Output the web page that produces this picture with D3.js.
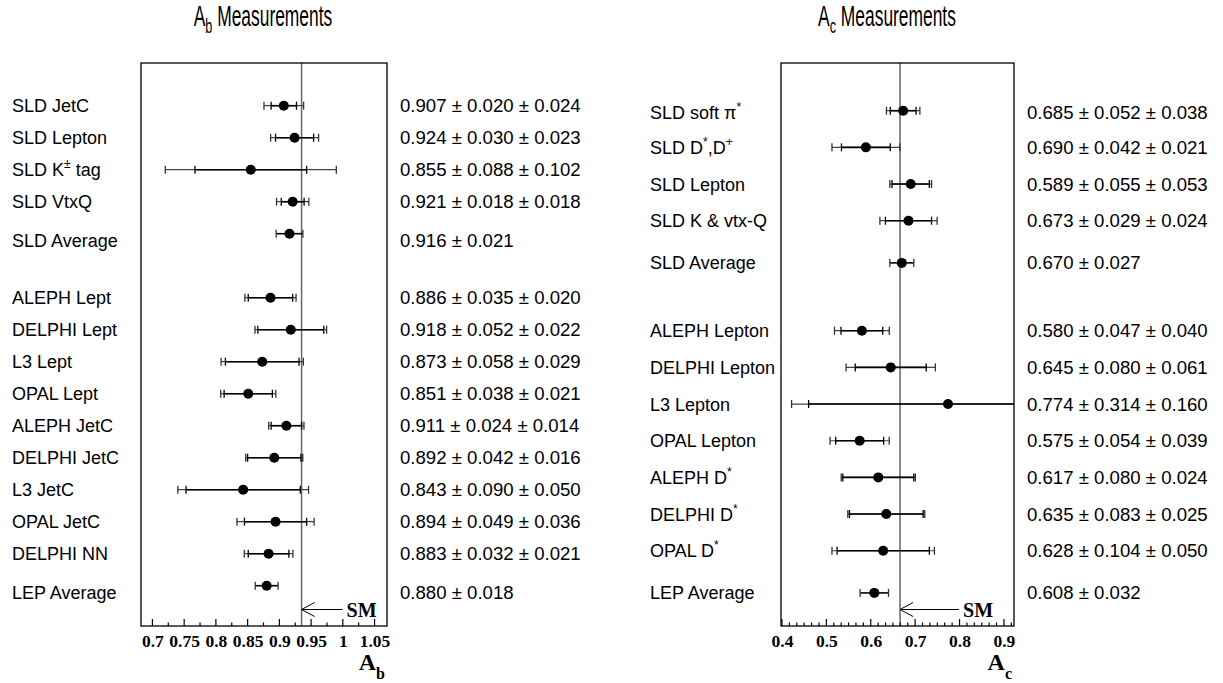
<!DOCTYPE html>
<html>
<head>
<meta charset="utf-8">
<script src="https://cdn.jsdelivr.net/npm/d3@7"></script>
<style>
  html, body { margin: 0; padding: 0; background: #fff; }
  svg { display: block; }
</style>
</head>
<body>
<svg id="chart" width="1223" height="683"></svg>
<script>
// ---------------- Data: A_b panel ----------------
const abLabels = ["SLD JetC", "SLD Lepton", "SLD K^{±} tag", "SLD VtxQ", "SLD Average",
  "ALEPH Lept", "DELPHI Lept", "L3 Lept", "OPAL Lept", "ALEPH JetC", "DELPHI JetC",
  "L3 JetC", "OPAL JetC", "DELPHI NN", "LEP Average"];
const abValue = [0.907, 0.924, 0.855, 0.921, 0.916, 0.886, 0.918, 0.873, 0.851, 0.911, 0.892, 0.843, 0.894, 0.883, 0.880];
const abStat  = [0.020, 0.030, 0.088, 0.018, 0.021, 0.035, 0.052, 0.058, 0.038, 0.024, 0.042, 0.090, 0.049, 0.032, 0.018];
const abSyst  = [0.024, 0.023, 0.102, 0.018, null, 0.020, 0.022, 0.029, 0.021, 0.014, 0.016, 0.050, 0.036, 0.021, null];
const abPointSlot = [0, 1, 2, 3, 4, 6, 7, 8, 9, 10, 11, 12, 13, 14, 15];
const abLabelSlot = [0, 1, 2, 3, 4.2, 6, 7, 8, 9, 10, 11, 12, 13, 14, 15.2];
const abText = ["0.907 ± 0.020 ± 0.024", "0.924 ± 0.030 ± 0.023", "0.855 ± 0.088 ± 0.102",
  "0.921 ± 0.018 ± 0.018", "0.916 ± 0.021", "0.886 ± 0.035 ± 0.020", "0.918 ± 0.052 ± 0.022",
  "0.873 ± 0.058 ± 0.029", "0.851 ± 0.038 ± 0.021", "0.911 ± 0.024 ± 0.014", "0.892 ± 0.042 ± 0.016",
  "0.843 ± 0.090 ± 0.050", "0.894 ± 0.049 ± 0.036", "0.883 ± 0.032 ± 0.021", "0.880 ± 0.018"];
const abTickLabels = ["0.7", "0.75", "0.8", "0.85", "0.9", "0.95", "1", "1.05"];
const abSM = 0.935;

// ---------------- Data: A_c panel ----------------
const acLabels = ["SLD soft π^{*}", "SLD D^{*},D^{+}", "SLD Lepton", "SLD K & vtx-Q", "SLD Average",
  "ALEPH Lepton", "DELPHI Lepton", "L3 Lepton", "OPAL Lepton", "ALEPH D^{*}", "DELPHI D^{*}",
  "OPAL D^{*}", "LEP Average"];
const acValue = [0.673, 0.589, 0.690, 0.685, 0.670, 0.580, 0.645, 0.774, 0.575, 0.617, 0.635, 0.628, 0.608];
const acStat  = [0.029, 0.055, 0.042, 0.052, 0.027, 0.047, 0.080, 0.314, 0.054, 0.080, 0.083, 0.104, 0.032];
const acSyst  = [0.024, 0.053, 0.021, 0.038, null, 0.040, 0.061, 0.160, 0.039, 0.024, 0.025, 0.050, null];
const acPointSlot = [0, 1, 2, 3, 4.15, 6, 7, 8, 9, 10, 11, 12, 13.15];
const acLabelSlot = [0.05, 1, 2, 3, 4.15, 6, 7, 8, 9, 10, 11, 12, 13.15];
const acText = ["0.685 ± 0.052 ± 0.038", "0.690 ± 0.042 ± 0.021", "0.589 ± 0.055 ± 0.053",
  "0.673 ± 0.029 ± 0.024", "0.670 ± 0.027", "0.580 ± 0.047 ± 0.040", "0.645 ± 0.080 ± 0.061",
  "0.774 ± 0.314 ± 0.160", "0.575 ± 0.054 ± 0.039", "0.617 ± 0.080 ± 0.024", "0.635 ± 0.083 ± 0.025",
  "0.628 ± 0.104 ± 0.050", "0.608 ± 0.032"];
const acTickLabels = ["0.4", "0.5", "0.6", "0.7", "0.8", "0.9"];
const acSM = 0.666;

// ---------------- Drawing ----------------
const svg = d3.select("#chart");
const SANS = "'Liberation Sans', Arial, Helvetica, sans-serif";
const SERIF = "'Liberation Serif', 'Times New Roman', Times, serif";

function richText(sel, str, supSize) {
  const parts = str.split(/(\^\{[^}]*\})/).filter(p => p.length);
  let lastSup = false;
  parts.forEach(p => {
    if (p.startsWith("^{")) {
      sel.append("tspan").attr("font-size", supSize).attr("dy", -8).text(p.slice(2, -1));
      lastSup = true;
    } else {
      const t = sel.append("tspan").text(p);
      if (lastSup) t.attr("dy", 8);
      lastSup = false;
    }
  });
}

function panel(cfg) {
  const g = svg.append("g");
  const x = d3.scaleLinear().domain(cfg.domain).range([cfg.x0, cfg.x1]);
  const y = d3.scaleLinear().domain([0, 1]).range([cfg.y0, cfg.y0 + cfg.rowH]);
  const clipId = "clip" + cfg.id;
  svg.append("clipPath").attr("id", clipId).append("rect")
    .attr("x", cfg.x0).attr("y", cfg.top).attr("width", cfg.x1 - cfg.x0).attr("height", cfg.bottom - cfg.top);

  // title (narrow face)
  const tg = g.append("g").attr("transform", `translate(${cfg.titleX},26) scale(0.6,1)`);
  const tt = tg.append("text").attr("text-anchor", "middle").attr("font-family", SANS)
    .attr("font-size", 29).attr("fill", "#000");
  tt.append("tspan").text("A");
  tt.append("tspan").attr("font-size", 21).attr("dy", 7).text(cfg.sub);
  tt.append("tspan").attr("dy", -7).text(" Measurements");

  // SM line
  g.append("line").attr("x1", x(cfg.sm)).attr("x2", x(cfg.sm))
    .attr("y1", cfg.top).attr("y2", cfg.bottom).attr("stroke", "#666").attr("stroke-width", 1.5);

  // frame
  g.append("rect").attr("x", cfg.x0).attr("y", cfg.top)
    .attr("width", cfg.x1 - cfg.x0).attr("height", cfg.bottom - cfg.top)
    .attr("fill", "none").attr("stroke", "#000").attr("stroke-width", 1.3);

  // ticks (inside frame, pointing up)
  const minorTicks = d3.range(cfg.tickStart, cfg.domain[1] + 1e-9, cfg.minorStep);
  g.append("g").selectAll("line").data(minorTicks).join("line")
    .attr("x1", d => x(d)).attr("x2", d => x(d))
    .attr("y1", cfg.bottom).attr("y2", (d, i) => cfg.bottom - (i % cfg.minorPerMajor === 0 ? 7 : 3.5))
    .attr("stroke", "#000").attr("stroke-width", 1.2);
  const xAxis = d3.axisBottom(x).tickValues(cfg.tickLabels.map(Number))
    .tickFormat((d, i) => cfg.tickLabels[i]).tickSize(0).tickPadding(0);
  const ax = g.append("g").attr("transform", `translate(0,${cfg.bottom})`).call(xAxis);
  ax.select(".domain").remove();
  ax.selectAll("text").attr("dy", null).attr("y", 20.5)
    .attr("font-family", SERIF).attr("font-weight", "bold").attr("font-size", 17.5).attr("fill", "#000");

  // axis title
  const at = g.append("text").attr("x", cfg.x1 - 2).attr("y", 670).attr("text-anchor", "end")
    .attr("font-family", SERIF).attr("font-weight", "bold").attr("font-size", 24).attr("fill", "#000");
  at.append("tspan").text("A");
  at.append("tspan").attr("font-size", 16).attr("dy", 9).text(cfg.sub);

  // SM arrow
  const ay = cfg.bottom - 16.5;
  const ag = g.append("g");
  ag.append("line").attr("x1", x(cfg.sm)).attr("x2", x(cfg.sm) + cfg.arrowLen)
    .attr("y1", ay).attr("y2", ay).attr("stroke", "#000").attr("stroke-width", 1);
  ag.append("path").attr("d", `M${x(cfg.sm) + 13},${ay - 7} L${x(cfg.sm)},${ay} L${x(cfg.sm) + 13},${ay + 7}`)
    .attr("fill", "none").attr("stroke", "#000").attr("stroke-width", 1);
  ag.append("text").attr("x", x(cfg.sm) + cfg.arrowLen + 4).attr("y", ay + 7)
    .attr("font-family", SERIF).attr("font-weight", "bold").attr("font-size", 20).text("SM");

  // data rows
  const rows = cfg.value.map((v, i) => ({
    v, stat: cfg.stat[i], syst: cfg.syst[i],
    tot: cfg.syst[i] == null ? cfg.stat[i] : Math.sqrt(cfg.stat[i] ** 2 + cfg.syst[i] ** 2),
    py: y(cfg.pointSlot[i]), ly: y(cfg.labelSlot[i]), label: cfg.labels[i], text: cfg.text[i]
  }));

  const eg = g.append("g").attr("clip-path", `url(#${clipId})`);
  const capH = 4;
  rows.forEach(r => {
    const lo = r.v - r.tot, hi = r.v + r.tot;
    eg.append("line").attr("x1", x(lo)).attr("x2", x(hi)).attr("y1", r.py).attr("y2", r.py)
      .attr("stroke", r.syst == null ? "#000" : "#444").attr("stroke-width", r.syst == null ? 1.6 : 1.2);
    [lo, hi].forEach(e => eg.append("line").attr("x1", x(e)).attr("x2", x(e))
      .attr("y1", r.py - capH).attr("y2", r.py + capH).attr("stroke", "#333").attr("stroke-width", 1.3));
    if (r.syst != null) {
      const slo = r.v - r.stat, shi = r.v + r.stat;
      eg.append("line").attr("x1", x(slo)).attr("x2", x(shi)).attr("y1", r.py).attr("y2", r.py)
        .attr("stroke", "#000").attr("stroke-width", 1.6);
      [slo, shi].forEach(e => eg.append("line").attr("x1", x(e)).attr("x2", x(e))
        .attr("y1", r.py - capH).attr("y2", r.py + capH).attr("stroke", "#000").attr("stroke-width", 1.3));
    }
    eg.append("circle").attr("cx", x(r.v)).attr("cy", r.py).attr("r", 5).attr("fill", "#000");

    const lt = g.append("text").attr("x", cfg.labelX).attr("y", r.ly + 6.5)
      .attr("font-family", SANS).attr("font-size", 18).attr("fill", "#000");
    richText(lt, r.label, 12);
    g.append("text").attr("x", cfg.textX).attr("y", r.ly + 6.5)
      .attr("font-family", SANS).attr("font-size", 18.6).attr("fill", "#000").text(r.text);
  });
}

panel({
  id: "b", sub: "b", titleX: 263,
  domain: [0.682, 1.0696], x0: 141, x1: 387, top: 63, bottom: 626,
  y0: 105.7, rowH: 32,
  tickStart: 0.7, minorStep: 0.025, minorPerMajor: 2, tickLabels: abTickLabels,
  sm: abSM, arrowLen: 41,
  labels: abLabels, value: abValue, stat: abStat, syst: abSyst, text: abText,
  pointSlot: abPointSlot, labelSlot: abLabelSlot, labelX: 12, textX: 400
});

panel({
  id: "c", sub: "c", titleX: 887,
  domain: [0.3978, 0.9227], x0: 781, x1: 1014, top: 63, bottom: 626,
  y0: 110.7, rowH: 36.67,
  tickStart: 0.4, minorStep: 0.1 / 6, minorPerMajor: 6, tickLabels: acTickLabels,
  sm: acSM, arrowLen: 59,
  labels: acLabels, value: acValue, stat: acStat, syst: acSyst, text: acText,
  pointSlot: acPointSlot, labelSlot: acLabelSlot, labelX: 650, textX: 1027
});
</script>
</body>
</html>
